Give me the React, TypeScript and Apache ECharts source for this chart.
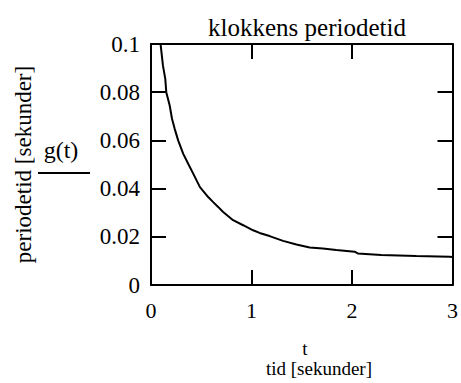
import React, { useEffect, useRef } from "react";
import * as echarts from "echarts";

const titleText = "klokkens periodetid";
const xNameTop = "t";
const xNameBottom = "tid [sekunder]";
const yName = "periodetid [sekunder]";
const seriesName = "g(t)";

const tValues = [0.096, 0.119, 0.142, 0.152, 0.186, 0.209, 0.235, 0.271, 0.321, 0.37, 0.42, 0.487, 0.569, 0.619, 0.668, 0.718, 0.817, 0.917, 1.016, 1.08, 1.18, 1.314, 1.447, 1.579, 1.71, 1.844, 2.026, 2.057, 2.29, 2.64, 2.97, 3.0];
const gValues = [0.0996, 0.091, 0.0855, 0.08, 0.0745, 0.069, 0.0649, 0.0599, 0.0544, 0.0503, 0.0462, 0.0406, 0.0365, 0.0344, 0.0324, 0.0303, 0.0269, 0.0248, 0.0227, 0.0216, 0.0203, 0.0183, 0.0168, 0.0156, 0.0151, 0.0145, 0.0138, 0.0131, 0.0124, 0.012, 0.0117, 0.0116];

const xMin = 0, xMax = 3, xStep = 1;
const yMin = 0, yMax = 0.1, yStep = 0.02;

const FONT = "Liberation Serif";

export default function App() {
  const ref = useRef<HTMLDivElement>(null);
  useEffect(() => {
    if (!ref.current) return;
    const chart = echarts.init(ref.current, null, { renderer: "svg" });
    const data = tValues.map((t, i) => [t, gValues[i]]);
    const mkLine = () => ({ show: true, onZero: false, lineStyle: { color: "#000", width: 2 } });
    const mkTick = () => ({ show: true, inside: true, length: 15, lineStyle: { color: "#000", width: 2 } });
    chart.setOption({
      animation: false,
      backgroundColor: "#fff",
      textStyle: { fontFamily: FONT },
      title: {
        text: titleText,
        left: 302,
        textAlign: "center",
        top: 10,
        textStyle: { fontFamily: FONT, fontSize: 25, fontWeight: "normal", color: "#000" },
      },
      grid: { left: 151, right: 8, top: 44, bottom: 98 },
      xAxis: [
        {
          type: "value",
          min: xMin,
          max: xMax,
          interval: xStep,
          position: "bottom",
          axisLine: mkLine(),
          axisTick: mkTick(),
          splitLine: { show: false },
          axisLabel: { margin: 14, fontFamily: FONT, fontSize: 22, color: "#000" },
        },
        {
          type: "value",
          min: xMin,
          max: xMax,
          interval: xStep,
          position: "top",
          axisLine: mkLine(),
          axisTick: mkTick(),
          splitLine: { show: false },
          axisLabel: { show: false },
        },
      ],
      yAxis: [
        {
          type: "value",
          min: yMin,
          max: yMax,
          interval: yStep,
          position: "left",
          axisLine: mkLine(),
          axisTick: mkTick(),
          splitLine: { show: false },
          axisLabel: {
            margin: 11,
            fontFamily: FONT,
            fontSize: 23,
            color: "#000",
            formatter: (v: number) => String(Math.round(v * 1000) / 1000),
          },
          name: yName,
          nameLocation: "middle",
          nameGap: 116,
          nameTextStyle: { fontFamily: FONT, fontSize: 23, color: "#000" },
        },
        {
          type: "value",
          min: yMin,
          max: yMax,
          interval: yStep,
          position: "right",
          axisLine: mkLine(),
          axisTick: mkTick(),
          splitLine: { show: false },
          axisLabel: { show: false },
        },
      ],
      graphic: [
        {
          type: "text",
          x: 61,
          y: 150,
          style: { text: seriesName, fontFamily: FONT, fontSize: 24, fill: "#000", align: "center", verticalAlign: "middle" },
        },
        {
          type: "line",
          shape: { x1: 38, y1: 173, x2: 90, y2: 173 },
          style: { stroke: "#000", lineWidth: 2 },
        },
        {
          type: "text",
          x: 305,
          y: 348,
          style: { text: xNameTop, fontFamily: FONT, fontSize: 19, fill: "#000", align: "center", verticalAlign: "middle" },
        },
        {
          type: "text",
          x: 319,
          y: 368,
          style: { text: xNameBottom, fontFamily: FONT, fontSize: 19, fill: "#000", align: "center", verticalAlign: "middle" },
        },
      ],
      series: [
        {
          type: "line",
          name: seriesName,
          data,
          showSymbol: false,
          clip: true,
          lineStyle: { color: "#000", width: 2 },
        },
      ],
    });
    return () => chart.dispose();
  }, []);
  return <div ref={ref} style={{ position: "fixed", left: 0, top: 0, width: 461, height: 383 }} />;
}
